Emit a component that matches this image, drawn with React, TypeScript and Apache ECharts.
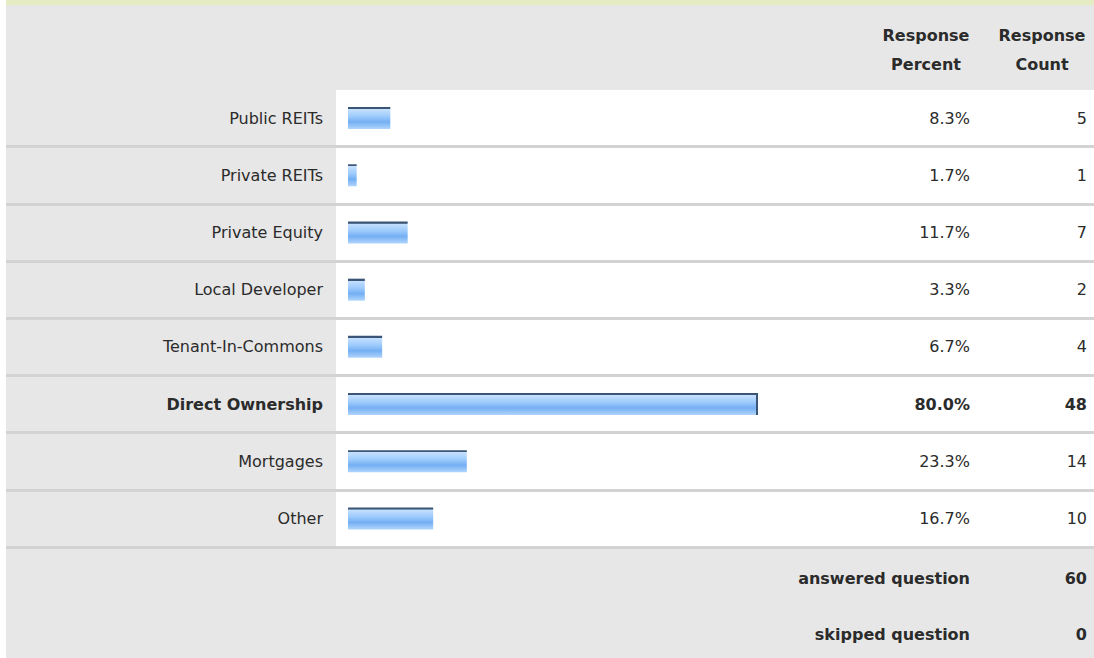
import React, { useEffect, useRef } from "react";
import * as echarts from "echarts";

const categories = [
  "Public REITs",
  "Private REITs",
  "Private Equity",
  "Local Developer",
  "Tenant-In-Commons",
  "Direct Ownership",
  "Mortgages",
  "Other",
];
const percents = [8.3, 1.7, 11.7, 3.3, 6.7, 80.0, 23.3, 16.7];
const counts = [5, 1, 7, 2, 4, 48, 14, 10];
const headerPercent = "Response\nPercent";
const headerCount = "Response\nCount";
const summaryLabels = ["answered question", "skipped question"];
const summaryValues = [60, 0];

const FONT = "DejaVu Sans";
const TEXT = "#2b2b2b";
const FS = 16;

export default function App() {
  const ref = useRef<HTMLDivElement>(null);
  useEffect(() => {
    document.body.style.margin = "0";
    if (!ref.current) return;
    const chart = echarts.init(ref.current, undefined, { renderer: "svg" });
    const W = 1094;
    const H = 658;
    const top = 89.5;
    const rowH = 57.19;
    const n = categories.length;
    const gridH = rowH * n;
    const maxIdx = counts.indexOf(Math.max(...counts));

    const barFill = new echarts.graphic.LinearGradient(0, 0, 0, 1, [
      { offset: 0, color: "#3b5576" },
      { offset: 0.09, color: "#3b5576" },
      { offset: 0.1, color: "#c6e0ff" },
      { offset: 0.42, color: "#9dcbfc" },
      { offset: 0.68, color: "#74aff3" },
      { offset: 1, color: "#b0d5fc" },
    ]);

    const boldRich = {
      b: { fontFamily: FONT, fontSize: FS, fontWeight: "bold", color: TEXT },
    };

    const splitColors = ["rgba(0,0,0,0)"];
    for (let i = 0; i < n; i++) splitColors.push("#d3d3d3");

    const summaryTexts: any[] = [];
    summaryLabels.forEach((lab, i) => {
      const y = 578 + i * 56;
      summaryTexts.push({
        type: "text",
        x: 970,
        y,
        style: {
          text: lab,
          fontFamily: FONT,
          fontSize: FS,
          fontWeight: "bold",
          fill: TEXT,
          textAlign: "right",
          textVerticalAlign: "middle",
        },
      });
      summaryTexts.push({
        type: "text",
        x: 1087,
        y,
        style: {
          text: String(summaryValues[i]),
          fontFamily: FONT,
          fontSize: FS,
          fontWeight: "bold",
          fill: TEXT,
          textAlign: "right",
          textVerticalAlign: "middle",
        },
      });
    });

    const headerText = (text: string, x: number) => ({
      type: "text",
      x,
      y: 49.5,
      style: {
        text,
        fontFamily: FONT,
        fontSize: FS,
        fontWeight: "bold",
        fill: TEXT,
        textAlign: "center",
        textVerticalAlign: "middle",
        lineHeight: 29,
      },
    });

    chart.setOption({
      animation: false,
      backgroundColor: "#ffffff",
      graphic: [
        { type: "rect", z: -10, shape: { x: 6, y: 0, width: W - 6, height: 5 }, style: { fill: "#e5ecc1" } },
        { type: "rect", z: -10, shape: { x: 6, y: 5, width: W - 6, height: 85 }, style: { fill: "#e7e7e7" } },
        { type: "rect", z: -10, shape: { x: 6, y: 90, width: 330, height: 459 }, style: { fill: "#e7e7e7" } },
        { type: "rect", z: -10, shape: { x: 336, y: 90, width: W - 336, height: 459 }, style: { fill: "#ffffff" } },
        { type: "rect", z: -10, shape: { x: 6, y: 548, width: W - 6, height: H - 548 }, style: { fill: "#e7e7e7" } },
        headerText(headerPercent, 926),
        headerText(headerCount, 1042),
        ...summaryTexts,
      ],
      grid: [
        { left: 348, top, width: 510, height: gridH },
        { left: 6, right: 0, top, height: gridH },
      ],
      xAxis: [
        { type: "value", gridIndex: 0, min: 0, max: 100, show: false },
        { type: "value", gridIndex: 1, min: 0, max: 100, show: false },
      ],
      yAxis: [
        {
          type: "category",
          gridIndex: 0,
          inverse: true,
          data: categories,
          axisLine: { show: false },
          axisTick: { show: false },
          splitLine: { show: false },
          axisLabel: {
            margin: 25,
            fontFamily: FONT,
            fontSize: FS,
            color: TEXT,
            formatter: (v: string, i: number) => (i === maxIdx ? `{b|${v}}` : v),
            rich: boldRich,
          },
        },
        {
          type: "category",
          gridIndex: 0,
          position: "right",
          inverse: true,
          data: percents.map((p) => p.toFixed(1) + "%"),
          axisLine: { show: false },
          axisTick: { show: false },
          splitLine: { show: false },
          axisLabel: {
            margin: 112,
            align: "right",
            fontFamily: FONT,
            fontSize: FS,
            color: TEXT,
            formatter: (v: string, i: number) => (i === maxIdx ? `{b|${v}}` : v),
            rich: boldRich,
          },
        },
        {
          type: "category",
          gridIndex: 0,
          position: "right",
          inverse: true,
          data: counts.map((c) => String(c)),
          axisLine: { show: false },
          axisTick: { show: false },
          splitLine: { show: false },
          axisLabel: {
            margin: 229,
            align: "right",
            fontFamily: FONT,
            fontSize: FS,
            color: TEXT,
            formatter: (v: string, i: number) => (i === maxIdx ? `{b|${v}}` : v),
            rich: boldRich,
          },
        },
        {
          type: "category",
          gridIndex: 1,
          inverse: true,
          data: categories,
          z: 3,
          axisLine: { show: false },
          axisTick: { show: false },
          axisLabel: { show: false },
          splitLine: { show: true, lineStyle: { color: splitColors, width: 3 } },
        },
      ],
      series: [
        {
          type: "bar",
          xAxisIndex: 0,
          yAxisIndex: 0,
          barWidth: 22,
          z: 4,
          data: percents.map((p, i) =>
            i === maxIdx
              ? {
                  value: p,
                  itemStyle: {
                    color: barFill,
                    shadowColor: "#3b5576",
                    shadowBlur: 0,
                    shadowOffsetX: 2,
                    shadowOffsetY: 0,
                  },
                }
              : { value: p, itemStyle: { color: barFill } }
          ),
        },
      ],
    });
    return () => chart.dispose();
  }, []);
  return <div ref={ref} style={{ width: 1094, height: 658 }} />;
}
